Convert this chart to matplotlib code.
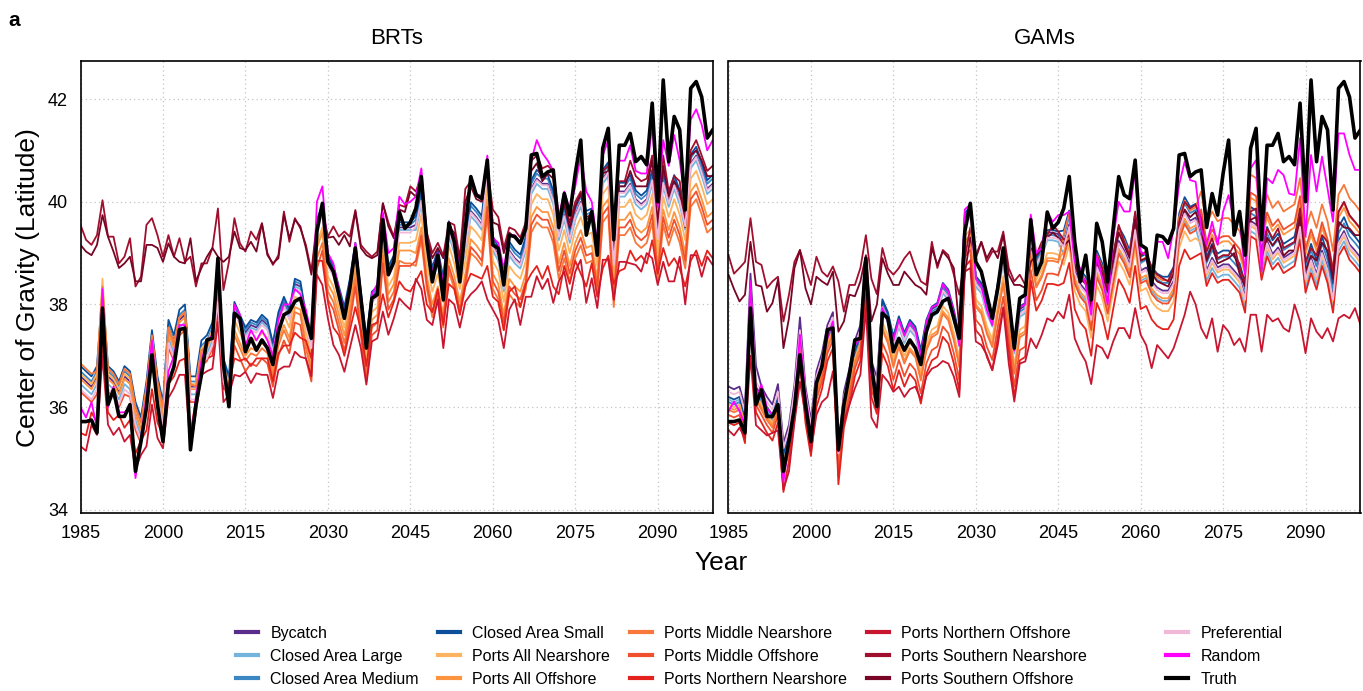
import matplotlib
matplotlib.use("Agg")
import matplotlib.pyplot as plt
from matplotlib.lines import Line2D

plt.rcParams['font.family'] = ['Liberation Sans', 'DejaVu Sans']

years = list(range(1985, 2101))

truth = [35.72, 35.72, 35.75, 35.50, 37.93, 36.05, 36.34, 35.82, 35.82, 36.05,
         34.75, 35.33, 35.99, 37.02, 36.05, 35.33, 36.47, 36.79, 37.51, 37.54,
         35.17, 36.05, 36.63, 37.31, 37.34, 38.90, 36.83, 36.01, 37.83, 37.73,
         37.08, 37.34, 37.11, 37.31, 37.15, 36.83, 37.47, 37.80, 37.86, 38.06,
         38.12, 37.73, 37.34, 39.42, 39.97, 38.83, 38.64, 38.19, 37.73, 38.32,
         39.10, 38.12, 37.15, 38.12, 38.19, 39.65, 38.58, 38.83, 39.80, 39.48,
         39.60, 39.87, 40.49, 39.22, 38.44, 38.96, 38.09, 39.58, 39.22, 38.44,
         39.48, 40.49, 40.13, 40.06, 40.81, 39.16, 39.09, 38.38, 39.35, 39.32,
         39.19, 39.48, 40.91, 40.94, 40.49, 40.58, 40.62, 39.50, 40.16, 39.74,
         40.55, 41.20, 39.35, 39.81, 38.96, 41.04, 41.43, 39.26, 41.10, 41.10,
         41.33, 40.78, 40.88, 40.72, 41.92, 40.00, 42.37, 40.78, 41.66, 41.40,
         39.84, 42.21, 42.34, 42.04, 41.24, 41.40]

# ---------------- BRTs ----------------
brt_bycatch = [36.60, 36.50, 36.40, 36.60, 38.10, 36.60, 36.50, 36.30, 36.60, 36.50,
               35.90, 35.60, 36.30, 37.30, 36.40, 35.90, 37.50, 37.20, 37.70, 37.80,
               36.40, 36.40, 37.10, 37.20, 37.45, 38.30, 36.75, 36.40, 37.95, 37.70,
               37.45, 37.60, 37.55, 37.70, 37.60, 37.15, 37.75, 38.05, 37.80, 38.40,
               38.35, 37.70, 37.25, 39.55, 39.85, 38.85, 38.65, 38.25, 37.85, 38.40,
               39.10, 38.15, 37.25, 38.15, 38.25, 39.55, 38.65, 38.85, 39.50, 39.50,
               39.50, 39.55, 40.05, 39.10, 38.55, 38.90, 38.35, 39.45, 39.10, 38.60,
               39.15, 39.82, 39.70, 39.55, 40.60, 39.15, 38.95, 38.35, 39.05, 38.90,
               38.80, 39.15, 40.25, 40.45, 40.35, 40.35, 40.05, 39.35, 39.75, 39.30,
               39.75, 40.00, 39.65, 39.70, 39.05, 40.45, 40.60, 38.80, 40.20, 40.20,
               40.35, 40.05, 39.95, 40.05, 40.45, 39.30, 40.40, 40.00, 40.35, 40.05,
               39.55, 40.75, 40.90, 40.60, 40.25, 40.35]
brt_ca_large = [36.45, 36.35, 36.25, 36.45, 37.95, 36.45, 36.35, 36.15, 36.45, 36.35,
                35.75, 35.45, 36.15, 37.15, 36.25, 35.75, 37.35, 37.05, 37.55, 37.65,
                36.25, 36.25, 36.95, 37.05, 37.30, 38.15, 36.60, 36.25, 37.90, 37.65,
                37.40, 37.55, 37.50, 37.65, 37.55, 37.10, 37.70, 38.00, 37.75, 38.35,
                38.30, 37.65, 37.20, 39.50, 39.80, 38.80, 38.60, 38.20, 37.80, 38.35,
                39.05, 38.10, 37.20, 38.10, 38.20, 39.50, 38.60, 38.80, 39.45, 39.45,
                39.45, 39.45, 39.95, 39.00, 38.45, 38.80, 38.25, 39.35, 39.00, 38.50,
                39.05, 39.72, 39.60, 39.45, 40.50, 39.05, 38.85, 38.25, 38.95, 38.80,
                38.70, 39.05, 40.15, 40.35, 40.25, 40.25, 39.95, 39.25, 39.65, 39.20,
                39.65, 39.90, 39.55, 39.60, 38.95, 40.35, 40.50, 38.70, 40.10, 40.10,
                40.25, 39.95, 39.85, 39.95, 40.35, 39.20, 40.30, 39.90, 40.25, 39.95,
                39.45, 40.65, 40.80, 40.50, 40.15, 40.25]
brt_ca_medium = [36.70, 36.60, 36.50, 36.70, 38.20, 36.70, 36.60, 36.40, 36.70, 36.60,
                 36.00, 35.70, 36.40, 37.40, 36.50, 36.00, 37.60, 37.30, 37.80, 37.90,
                 36.50, 36.50, 37.20, 37.30, 37.55, 38.40, 36.85, 36.50, 38.00, 37.75,
                 37.50, 37.65, 37.60, 37.75, 37.65, 37.20, 37.80, 38.10, 37.85, 38.45,
                 38.40, 37.75, 37.30, 39.60, 39.90, 38.90, 38.70, 38.30, 37.90, 38.45,
                 39.15, 38.20, 37.30, 38.20, 38.30, 39.60, 38.70, 38.90, 39.55, 39.55,
                 39.55, 39.65, 40.15, 39.20, 38.65, 39.00, 38.45, 39.55, 39.20, 38.70,
                 39.25, 39.92, 39.80, 39.65, 40.70, 39.25, 39.05, 38.45, 39.15, 39.00,
                 38.90, 39.25, 40.35, 40.55, 40.45, 40.45, 40.15, 39.45, 39.85, 39.40,
                 39.85, 40.10, 39.75, 39.80, 39.15, 40.55, 40.70, 38.90, 40.30, 40.30,
                 40.45, 40.15, 40.05, 40.15, 40.55, 39.40, 40.50, 40.10, 40.45, 40.15,
                 39.65, 40.85, 41.00, 40.70, 40.35, 40.45]
brt_ca_small = [36.80, 36.70, 36.60, 36.80, 38.30, 36.80, 36.70, 36.50, 36.80, 36.70,
                36.10, 35.80, 36.50, 37.50, 36.60, 36.10, 37.70, 37.40, 37.90, 38.00,
                36.60, 36.60, 37.30, 37.40, 37.65, 38.50, 36.95, 36.60, 38.05, 37.80,
                37.55, 37.70, 37.65, 37.80, 37.70, 37.25, 37.85, 38.15, 37.90, 38.50,
                38.45, 37.80, 37.35, 39.65, 39.95, 38.95, 38.75, 38.35, 37.95, 38.50,
                39.20, 38.25, 37.35, 38.25, 38.35, 39.65, 38.75, 38.95, 39.60, 39.60,
                39.60, 39.72, 40.22, 39.27, 38.72, 39.07, 38.52, 39.62, 39.27, 38.77,
                39.32, 39.99, 39.87, 39.72, 40.77, 39.32, 39.12, 38.52, 39.22, 39.07,
                38.97, 39.32, 40.42, 40.62, 40.52, 40.52, 40.22, 39.52, 39.92, 39.47,
                39.92, 40.17, 39.82, 39.87, 39.22, 40.62, 40.77, 38.97, 40.37, 40.37,
                40.52, 40.22, 40.12, 40.22, 40.62, 39.47, 40.57, 40.17, 40.52, 40.22,
                39.72, 40.92, 41.07, 40.77, 40.42, 40.52]
brt_ports_all_near = [36.65, 36.55, 36.45, 36.65, 38.50, 36.65, 36.55, 36.35, 36.65, 36.55,
                      35.95, 35.65, 36.35, 37.35, 36.45, 35.95, 37.55, 37.25, 37.75, 37.85,
                      36.45, 36.45, 37.15, 37.25, 37.50, 38.35, 36.80, 36.45, 37.70, 37.45,
                      37.20, 37.35, 37.30, 37.45, 37.35, 36.90, 37.50, 37.80, 37.55, 38.15,
                      38.10, 37.45, 37.00, 39.20, 39.50, 38.55, 38.35, 37.95, 37.55, 38.10,
                      38.80, 37.85, 37.00, 37.85, 37.95, 39.25, 38.35, 38.55, 39.20, 39.20,
                      39.20, 39.25, 39.75, 38.80, 38.25, 38.60, 38.05, 39.15, 38.80, 38.30,
                      38.85, 39.52, 39.40, 39.25, 40.30, 38.85, 38.65, 38.05, 38.75, 38.60,
                      38.50, 38.85, 39.95, 40.15, 40.05, 40.05, 39.75, 39.05, 39.45, 39.00,
                      39.45, 39.70, 39.35, 39.40, 38.75, 40.15, 40.30, 38.50, 39.90, 39.90,
                      40.05, 39.75, 39.65, 39.75, 40.15, 39.00, 40.10, 39.70, 40.05, 39.75,
                      39.25, 40.45, 40.60, 40.30, 39.95, 40.05]
brt_ports_all_off = [36.55, 36.45, 36.35, 36.55, 38.20, 36.55, 36.45, 36.25, 36.55, 36.45,
                     35.85, 35.55, 36.25, 37.25, 36.35, 35.85, 37.45, 37.15, 37.65, 37.75,
                     36.35, 36.35, 37.05, 37.15, 37.40, 38.25, 36.70, 36.35, 37.50, 37.25,
                     37.00, 37.15, 37.10, 37.25, 37.15, 36.70, 37.30, 37.60, 37.35, 37.95,
                     37.90, 37.25, 36.80, 39.10, 39.40, 38.40, 38.20, 37.80, 37.40, 37.95,
                     38.65, 37.70, 36.80, 37.70, 37.80, 39.10, 38.20, 38.40, 39.05, 39.05,
                     39.05, 39.00, 39.50, 38.55, 38.00, 38.35, 37.80, 38.90, 38.55, 38.05,
                     38.60, 39.27, 39.15, 39.00, 40.05, 38.60, 38.40, 37.80, 38.50, 38.35,
                     38.25, 38.60, 39.70, 39.90, 39.80, 39.80, 39.50, 38.80, 39.20, 38.75,
                     39.20, 39.45, 39.10, 39.15, 38.50, 39.90, 40.05, 38.25, 39.65, 39.65,
                     39.80, 39.50, 39.40, 39.50, 39.90, 38.75, 39.85, 39.45, 39.80, 39.50,
                     39.00, 40.20, 40.35, 40.05, 39.70, 39.80]
brt_ports_mid_near = [36.85, 36.75, 36.65, 36.70, 38.35, 36.75, 36.65, 36.45, 36.75, 36.65,
                      36.00, 35.70, 36.40, 37.40, 36.50, 36.00, 37.55, 37.25, 37.75, 37.85,
                      36.45, 36.40, 37.10, 37.20, 37.40, 38.30, 36.70, 36.30, 37.40, 37.15,
                      36.90, 37.05, 37.00, 37.15, 37.05, 36.60, 37.20, 37.50, 37.25, 37.85,
                      37.80, 37.15, 36.70, 38.90, 39.20, 38.25, 38.05, 37.65, 37.25, 37.80,
                      38.50, 37.55, 36.65, 37.55, 37.65, 38.95, 38.05, 38.25, 38.85, 38.80,
                      38.80, 38.75, 39.25, 38.30, 37.75, 38.10, 37.55, 38.65, 38.30, 37.80,
                      38.35, 39.00, 38.90, 38.75, 39.75, 38.30, 38.10, 37.50, 38.20, 38.05,
                      37.95, 38.30, 39.40, 39.60, 39.50, 39.50, 39.20, 38.50, 38.90, 38.45,
                      38.90, 39.15, 38.80, 38.85, 38.20, 39.60, 39.75, 37.95, 39.35, 39.35,
                      39.50, 39.20, 39.10, 39.20, 39.60, 38.45, 39.55, 39.15, 39.50, 39.20,
                      38.70, 39.90, 40.05, 39.75, 39.40, 39.50]
brt_ports_mid_off = [36.30, 36.20, 36.10, 36.25, 37.60, 36.30, 36.20, 36.00, 36.25, 36.20,
                     35.55, 35.30, 36.00, 37.00, 36.10, 35.60, 37.15, 36.90, 37.40, 37.50,
                     36.10, 36.10, 36.80, 36.90, 37.15, 37.95, 36.45, 36.10, 37.20, 36.95,
                     36.70, 36.85, 36.80, 36.95, 36.85, 36.40, 37.00, 37.30, 37.05, 37.65,
                     37.60, 36.95, 36.50, 38.70, 39.05, 38.10, 37.90, 37.50, 37.10, 37.65,
                     38.35, 37.40, 36.50, 37.40, 37.50, 38.80, 37.90, 38.10, 38.75, 38.75,
                     38.75, 38.85, 39.35, 38.40, 37.85, 38.20, 37.65, 38.75, 38.40, 37.90,
                     38.45, 39.12, 39.00, 38.85, 39.90, 38.45, 38.25, 37.65, 38.35, 38.20,
                     38.10, 38.45, 39.55, 39.75, 39.65, 39.65, 39.35, 38.65, 39.05, 38.60,
                     39.05, 39.30, 38.95, 39.00, 38.35, 39.75, 39.90, 38.10, 39.50, 39.50,
                     39.65, 39.35, 39.25, 39.35, 39.75, 38.60, 39.70, 39.30, 39.65, 39.35,
                     38.85, 40.05, 40.20, 39.90, 39.55, 39.65]
brt_ports_north_near = [35.50, 35.45, 35.90, 35.70, 37.30, 35.90, 35.75, 35.85, 35.60, 35.75,
                        35.10, 35.35, 35.55, 36.35, 35.70, 35.45, 36.45, 36.60, 36.90, 36.95,
                        35.50, 36.15, 36.85, 36.95, 37.00, 37.90, 36.35, 36.45, 36.95, 36.90,
                        36.95, 36.80, 36.95, 36.95, 36.95, 36.50, 37.05, 37.20, 37.20, 37.45,
                        37.35, 37.30, 36.95, 38.85, 38.85, 38.05, 37.55, 37.40, 37.00, 37.50,
                        37.95, 37.50, 36.80, 37.60, 37.65, 38.20, 37.75, 38.05, 38.45, 38.30,
                        38.25, 38.45, 38.65, 38.00, 37.85, 38.30, 37.60, 38.40, 38.30, 37.80,
                        38.35, 38.60, 38.55, 38.50, 38.75, 38.15, 38.05, 37.50, 38.25, 38.35,
                        37.95, 38.40, 38.60, 38.75, 38.50, 38.75, 38.35, 38.20, 38.75, 38.40,
                        38.85, 38.60, 38.35, 38.80, 38.15, 38.70, 38.95, 38.40, 38.65, 38.70,
                        39.05, 38.85, 38.95, 38.80, 39.25, 38.60, 39.10, 38.75, 38.90, 38.70,
                        38.35, 38.85, 39.05, 38.75, 39.05, 38.90]
brt_ports_north_off = [35.24, 35.15, 35.66, 35.46, 37.00, 35.66, 35.46, 35.60, 35.33, 35.46,
                       34.80, 35.07, 35.24, 36.05, 35.40, 35.20, 36.18, 36.37, 36.63, 36.63,
                       35.20, 35.90, 36.63, 36.70, 36.75, 37.67, 36.10, 36.24, 36.63, 36.60,
                       36.69, 36.47, 36.66, 36.63, 36.63, 36.18, 36.72, 36.79, 36.79, 37.08,
                       36.98, 36.95, 36.60, 38.58, 38.38, 37.73, 37.21, 37.02, 36.69, 37.15,
                       37.60, 37.15, 36.44, 37.28, 37.34, 37.86, 37.41, 37.73, 38.12, 38.00,
                       37.90, 38.50, 38.30, 37.70, 37.60, 38.10, 37.15, 38.10, 38.00, 37.55,
                       38.05, 38.20, 38.30, 38.45, 38.10, 37.90, 37.70, 37.15, 37.90, 38.10,
                       37.60, 38.15, 38.15, 38.55, 38.30, 38.50, 38.03, 38.45, 38.64, 38.09,
                       38.64, 38.87, 38.03, 38.51, 37.93, 38.87, 38.87, 38.09, 38.83, 38.83,
                       38.80, 38.77, 38.64, 39.00, 38.90, 38.38, 38.83, 38.45, 38.45, 38.93,
                       38.00, 38.96, 38.96, 38.54, 38.93, 38.77]
brt_ports_south_near = [39.55, 39.26, 39.16, 39.35, 40.03, 39.32, 39.32, 38.80, 38.93, 39.29,
                        38.35, 38.54, 39.55, 39.68, 39.35, 38.93, 39.35, 38.93, 39.29, 38.83,
                        38.93, 38.35, 38.80, 38.80, 39.10, 39.87, 38.28, 38.83, 39.68, 39.19,
                        39.03, 39.42, 39.26, 39.58, 39.00, 38.77, 38.96, 39.81, 39.22, 39.68,
                        39.48, 39.16, 38.64, 39.60, 39.85, 39.32, 39.52, 39.32, 39.42, 39.32,
                        39.84, 39.16, 39.03, 38.93, 39.03, 39.97, 39.60, 39.32, 39.94, 39.90,
                        40.30, 40.20, 40.50, 39.40, 39.00, 39.20, 38.95, 39.60, 39.55, 38.90,
                        40.25, 40.40, 40.15, 40.10, 40.70, 39.85, 39.70, 39.10, 39.50, 39.45,
                        39.30, 39.60, 40.80, 40.90, 40.65, 40.70, 40.60, 39.70, 40.00, 39.60,
                        40.00, 40.20, 39.60, 39.80, 39.10, 40.60, 40.70, 39.00, 40.40, 40.40,
                        40.80, 40.50, 40.40, 40.45, 40.90, 39.50, 40.90, 40.20, 40.50, 40.40,
                        39.60, 41.00, 41.20, 40.90, 40.60, 40.70]
brt_ports_south_off = [39.16, 39.03, 38.96, 39.16, 39.74, 39.32, 39.03, 38.71, 38.80, 38.93,
                       38.45, 38.45, 39.16, 39.16, 39.10, 38.83, 39.19, 38.93, 38.83, 38.80,
                       39.29, 38.45, 38.71, 38.93, 39.10, 38.93, 38.83, 38.93, 39.42, 39.10,
                       39.06, 39.22, 39.03, 39.58, 38.96, 38.80, 38.90, 39.74, 39.29, 39.65,
                       39.52, 39.10, 38.58, 39.50, 39.80, 39.30, 39.32, 39.16, 39.35, 39.13,
                       39.81, 39.10, 38.96, 38.90, 38.96, 39.97, 39.52, 39.29, 39.85, 39.80,
                       40.20, 40.10, 40.40, 39.30, 38.90, 39.10, 38.90, 39.50, 39.40, 38.85,
                       40.00, 40.30, 40.05, 40.00, 40.60, 39.60, 39.55, 39.00, 39.40, 39.30,
                       39.20, 39.50, 40.60, 40.75, 40.40, 40.55, 40.45, 39.60, 39.95, 39.50,
                       39.90, 40.15, 39.70, 39.75, 39.05, 40.55, 40.60, 39.10, 40.30, 40.30,
                       40.60, 40.30, 40.30, 40.30, 40.80, 39.60, 40.70, 40.10, 40.40, 40.20,
                       39.50, 40.90, 41.00, 40.80, 40.50, 40.50]
brt_preferential = [36.35, 36.25, 36.15, 36.35, 37.85, 36.35, 36.25, 36.05, 36.35, 36.25,
                    35.65, 35.35, 36.05, 37.05, 36.15, 35.65, 37.25, 36.95, 37.45, 37.55,
                    36.15, 36.15, 36.85, 36.95, 37.20, 38.05, 36.50, 36.15, 37.85, 37.60,
                    37.35, 37.50, 37.45, 37.60, 37.50, 37.05, 37.65, 37.95, 37.70, 38.30,
                    38.25, 37.60, 37.15, 39.45, 39.75, 38.75, 38.55, 38.15, 37.75, 38.30,
                    39.00, 38.05, 37.15, 38.05, 38.15, 39.45, 38.55, 38.75, 39.40, 39.40,
                    39.40, 39.52, 40.02, 39.07, 38.52, 38.87, 38.32, 39.42, 39.07, 38.57,
                    39.12, 39.79, 39.67, 39.52, 40.57, 39.12, 38.92, 38.32, 39.02, 38.87,
                    38.77, 39.12, 40.22, 40.42, 40.32, 40.32, 40.02, 39.32, 39.72, 39.27,
                    39.72, 39.97, 39.62, 39.67, 39.02, 40.42, 40.57, 38.77, 40.17, 40.17,
                    40.32, 40.02, 39.92, 40.02, 40.42, 39.27, 40.37, 39.97, 40.32, 40.02,
                    39.52, 40.72, 40.87, 40.57, 40.22, 40.32]
brt_random = [36.00, 35.80, 36.10, 35.60, 38.30, 36.00, 36.40, 35.90, 35.90, 36.00,
              34.62, 35.40, 36.20, 37.30, 36.10, 35.40, 36.70, 37.00, 37.60, 37.60,
              35.30, 36.20, 36.90, 37.30, 37.40, 38.60, 36.90, 36.00, 38.00, 37.80,
              37.20, 37.50, 37.30, 37.50, 37.30, 37.00, 37.70, 38.00, 38.00, 38.30,
              38.20, 37.90, 37.40, 40.00, 40.30, 39.00, 38.80, 38.30, 37.80, 38.40,
              39.20, 38.20, 37.20, 38.20, 38.40, 39.80, 39.00, 39.10, 40.10, 39.95,
              40.00, 40.10, 40.65, 39.30, 38.60, 39.00, 38.40, 39.60, 39.30, 38.60,
              39.45, 40.40, 40.15, 40.10, 40.90, 39.30, 39.20, 38.70, 39.35, 39.35,
              39.20, 39.50, 40.80, 41.20, 40.95, 40.80, 40.60, 39.70, 40.20, 39.85,
              40.30, 40.90, 40.20, 40.00, 39.20, 40.90, 41.20, 39.40, 40.80, 40.80,
              41.10, 40.60, 40.55, 40.55, 41.50, 39.90, 41.20, 40.70, 41.30, 40.80,
              40.00, 41.60, 41.80, 41.50, 41.00, 41.20]

# ---------------- GAMs ----------------
gam_bycatch = [36.40, 36.35, 36.40, 36.00, 38.60, 36.80, 36.40, 36.20, 36.05, 36.45,
               35.30, 35.66, 36.44, 37.75, 36.40, 35.75, 36.70, 37.05, 37.60, 37.85,
               35.20, 36.30, 36.75, 37.30, 37.60, 38.90, 36.90, 36.57, 38.05, 37.80,
               37.33, 37.72, 37.40, 37.65, 37.52, 37.07, 37.65, 37.91, 37.98, 38.37,
               38.24, 37.85, 37.33, 39.73, 39.86, 38.50, 38.37, 37.98, 37.72, 38.37,
               38.95, 38.11, 37.20, 37.91, 37.98, 39.47, 38.88, 39.08, 39.40, 39.40,
               39.37, 39.17, 39.56, 38.66, 38.40, 38.27, 37.75, 38.78, 38.53, 38.07,
               38.66, 39.24, 39.05, 38.78, 39.50, 38.66, 38.72, 38.46, 38.33, 38.27,
               38.27, 38.46, 39.50, 39.82, 39.63, 39.69, 39.30, 38.66, 38.91, 38.72,
               38.78, 38.78, 38.66, 38.53, 38.14, 39.63, 39.56, 38.78, 39.24, 38.98,
               39.11, 38.91, 38.98, 39.05, 39.56, 38.53, 38.91, 38.59, 39.05, 38.72,
               38.14, 39.24, 39.43, 39.17, 39.05, 38.91]
gam_ca_large = [36.15, 36.10, 36.15, 35.75, 38.15, 36.35, 36.15, 35.95, 35.80, 36.15,
                35.05, 35.41, 36.19, 37.30, 36.15, 35.50, 36.45, 36.80, 37.35, 37.60,
                34.95, 36.05, 36.50, 37.05, 37.35, 38.65, 36.65, 36.32, 37.90, 37.65,
                37.18, 37.57, 37.25, 37.50, 37.37, 36.92, 37.50, 37.76, 37.83, 38.22,
                38.09, 37.70, 37.18, 39.58, 39.71, 38.35, 38.22, 37.83, 37.57, 38.22,
                38.80, 37.96, 37.05, 37.76, 37.83, 39.32, 38.73, 38.93, 39.25, 39.25,
                39.22, 38.97, 39.36, 38.46, 38.20, 38.07, 37.55, 38.58, 38.33, 37.87,
                38.46, 39.04, 38.85, 38.58, 39.30, 38.46, 38.52, 38.26, 38.13, 38.07,
                38.07, 38.26, 39.30, 39.62, 39.43, 39.49, 39.10, 38.46, 38.71, 38.52,
                38.58, 38.58, 38.46, 38.33, 37.94, 39.43, 39.36, 38.58, 39.04, 38.78,
                38.91, 38.71, 38.78, 38.85, 39.36, 38.33, 38.71, 38.39, 38.85, 38.52,
                37.94, 39.04, 39.23, 38.97, 38.85, 38.71]
gam_ca_medium = [36.10, 36.05, 36.10, 35.70, 38.10, 36.30, 36.10, 35.90, 35.75, 36.10,
                 35.00, 35.36, 36.14, 37.25, 36.10, 35.45, 36.40, 36.75, 37.30, 37.55,
                 34.68, 36.00, 36.45, 37.00, 37.30, 38.60, 36.60, 36.27, 38.00, 37.75,
                 37.28, 37.67, 37.35, 37.60, 37.47, 37.02, 37.60, 37.86, 37.93, 38.32,
                 38.19, 37.80, 37.28, 39.68, 39.81, 38.45, 38.32, 37.93, 37.67, 38.32,
                 38.90, 38.06, 37.15, 37.86, 37.93, 39.42, 38.83, 39.03, 39.35, 39.35,
                 39.32, 39.32, 39.71, 38.81, 38.55, 38.42, 37.90, 38.93, 38.68, 38.22,
                 38.81, 39.39, 39.20, 38.93, 39.65, 38.81, 38.87, 38.61, 38.48, 38.42,
                 38.42, 38.61, 39.65, 39.97, 39.78, 39.84, 39.45, 38.81, 39.06, 38.87,
                 38.93, 38.93, 38.81, 38.68, 38.29, 39.78, 39.71, 38.93, 39.39, 39.13,
                 39.26, 39.06, 39.13, 39.20, 39.71, 38.68, 39.06, 38.74, 39.20, 38.87,
                 38.29, 39.39, 39.58, 39.32, 39.20, 39.06]
gam_ca_small = [36.20, 36.15, 36.20, 35.80, 38.20, 36.40, 36.20, 36.00, 35.85, 36.20,
                35.10, 35.46, 36.24, 37.35, 36.20, 35.55, 36.50, 36.85, 37.40, 37.65,
                35.00, 36.10, 36.55, 37.10, 37.40, 38.70, 36.70, 36.37, 38.10, 37.85,
                37.38, 37.77, 37.45, 37.70, 37.57, 37.12, 37.70, 37.96, 38.03, 38.42,
                38.29, 37.90, 37.38, 39.78, 39.91, 38.55, 38.42, 38.03, 37.77, 38.42,
                39.00, 38.16, 37.25, 37.96, 38.03, 39.52, 38.93, 39.13, 39.45, 39.45,
                39.42, 39.44, 39.83, 38.93, 38.67, 38.54, 38.02, 39.05, 38.80, 38.34,
                38.93, 39.51, 39.32, 39.05, 39.77, 38.93, 38.99, 38.73, 38.60, 38.54,
                38.54, 38.73, 39.77, 40.09, 39.90, 39.96, 39.57, 38.93, 39.18, 38.99,
                39.05, 39.05, 38.93, 38.80, 38.41, 39.90, 39.83, 39.05, 39.51, 39.25,
                39.38, 39.18, 39.25, 39.32, 39.83, 38.80, 39.18, 38.86, 39.32, 38.99,
                38.41, 39.51, 39.70, 39.44, 39.32, 39.18]
gam_ports_all_near = [36.05, 36.00, 36.05, 35.65, 38.05, 36.25, 36.05, 35.85, 35.70, 36.05,
                      34.95, 35.31, 36.09, 37.20, 36.05, 35.40, 36.35, 36.70, 37.25, 37.50,
                      34.85, 35.95, 36.40, 36.95, 37.25, 38.55, 36.55, 36.22, 37.65, 37.40,
                      36.93, 37.32, 37.00, 37.25, 37.12, 36.67, 37.25, 37.51, 37.58, 37.97,
                      37.84, 37.45, 36.93, 39.33, 39.46, 38.10, 37.97, 37.58, 37.32, 37.97,
                      38.55, 37.71, 36.80, 37.51, 37.58, 39.07, 38.48, 38.68, 39.00, 39.00,
                      38.97, 38.77, 39.16, 38.26, 38.00, 37.87, 37.35, 38.38, 38.13, 37.67,
                      38.26, 38.84, 38.65, 38.38, 39.10, 38.26, 38.32, 38.06, 37.93, 37.87,
                      37.87, 38.06, 39.10, 39.42, 39.23, 39.29, 39.20, 38.56, 38.81, 38.62,
                      38.68, 38.68, 38.56, 38.43, 38.04, 39.53, 39.46, 38.68, 39.14, 38.88,
                      39.01, 38.81, 38.88, 38.95, 39.46, 38.43, 38.81, 38.49, 38.95, 38.62,
                      38.04, 39.14, 39.33, 39.07, 38.95, 38.81]
gam_ports_all_off = [36.00, 35.95, 36.00, 35.60, 38.00, 36.20, 36.00, 35.80, 35.65, 36.00,
                     34.90, 35.26, 36.04, 37.15, 36.00, 35.35, 36.30, 36.65, 37.20, 37.45,
                     34.80, 35.90, 36.35, 36.90, 37.20, 38.50, 36.50, 36.17, 37.55, 37.30,
                     36.83, 37.22, 36.90, 37.15, 37.02, 36.57, 37.15, 37.41, 37.48, 37.87,
                     37.74, 37.35, 36.83, 39.23, 39.36, 38.00, 37.87, 37.48, 37.22, 37.87,
                     38.45, 37.61, 36.70, 37.41, 37.48, 38.97, 38.38, 38.58, 38.90, 38.90,
                     38.87, 39.02, 39.41, 38.51, 38.25, 38.12, 37.60, 38.63, 38.38, 37.92,
                     38.51, 39.09, 38.90, 38.63, 39.35, 38.51, 38.57, 38.31, 38.18, 38.12,
                     38.12, 38.31, 39.35, 39.67, 39.48, 39.54, 39.75, 39.11, 39.36, 39.17,
                     39.23, 39.23, 39.11, 38.98, 38.59, 40.08, 40.01, 39.23, 39.69, 39.43,
                     39.56, 39.36, 39.43, 39.50, 40.01, 38.98, 39.36, 39.04, 39.50, 39.17,
                     38.59, 39.69, 39.88, 39.62, 39.50, 39.36]
gam_ports_mid_near = [35.95, 35.90, 35.95, 35.55, 37.95, 36.15, 35.95, 35.75, 35.60, 35.95,
                      34.85, 35.21, 35.99, 37.10, 35.95, 35.30, 36.25, 36.60, 37.15, 37.40,
                      34.75, 35.85, 36.30, 36.85, 37.15, 38.45, 36.45, 36.12, 37.50, 37.25,
                      36.78, 37.17, 36.85, 37.10, 36.97, 36.52, 37.10, 37.36, 37.43, 37.82,
                      37.69, 37.30, 36.78, 39.18, 39.31, 37.95, 37.82, 37.43, 37.17, 37.82,
                      38.40, 37.56, 36.65, 37.36, 37.43, 38.92, 38.33, 38.53, 38.85, 38.85,
                      38.82, 39.37, 39.76, 38.86, 38.60, 38.47, 37.95, 38.98, 38.73, 38.27,
                      38.86, 39.44, 39.25, 38.98, 39.70, 38.86, 38.92, 38.66, 38.53, 38.47,
                      38.47, 38.66, 39.70, 40.02, 39.83, 39.89, 40.20, 39.56, 39.81, 39.62,
                      39.68, 39.68, 39.56, 39.43, 39.04, 40.53, 40.46, 39.68, 40.14, 39.88,
                      40.01, 39.81, 39.88, 39.95, 40.46, 39.43, 39.81, 39.49, 39.95, 39.62,
                      39.04, 40.14, 40.33, 40.07, 39.95, 39.81]
gam_ports_mid_off = [35.85, 35.80, 35.85, 35.45, 37.85, 36.05, 35.85, 35.65, 35.50, 35.85,
                     34.75, 35.11, 35.89, 37.00, 35.85, 35.20, 36.15, 36.50, 37.05, 37.30,
                     34.65, 35.75, 36.20, 36.75, 37.05, 38.35, 36.35, 36.02, 37.25, 37.00,
                     36.53, 36.92, 36.60, 36.85, 36.72, 36.27, 36.85, 37.11, 37.18, 37.57,
                     37.44, 37.05, 36.53, 38.93, 39.06, 37.70, 37.57, 37.18, 36.92, 37.57,
                     38.15, 37.31, 36.40, 37.11, 37.18, 38.67, 38.08, 38.28, 38.60, 38.60,
                     38.57, 38.92, 39.31, 38.41, 38.15, 38.02, 37.50, 38.53, 38.28, 37.82,
                     38.41, 38.99, 38.80, 38.53, 39.25, 38.41, 38.47, 38.21, 38.08, 38.02,
                     38.02, 38.21, 39.25, 39.57, 39.38, 39.44, 39.85, 39.21, 39.46, 39.27,
                     39.33, 39.33, 39.21, 39.08, 38.69, 40.18, 40.11, 39.33, 39.79, 39.53,
                     39.66, 39.46, 39.53, 39.60, 40.11, 39.08, 39.46, 39.14, 39.60, 39.27,
                     38.69, 39.79, 39.98, 39.72, 39.60, 39.46]
gam_ports_north_near = [35.70, 35.65, 35.70, 35.30, 37.70, 35.90, 35.70, 35.50, 35.35, 35.70,
                        34.35, 34.96, 35.74, 36.85, 35.70, 35.05, 36.00, 36.35, 36.90, 37.15,
                        34.50, 35.60, 36.05, 36.60, 36.90, 38.20, 36.20, 35.87, 37.05, 36.80,
                        36.33, 36.72, 36.40, 36.65, 36.52, 36.07, 36.65, 36.91, 36.98, 37.37,
                        37.24, 36.85, 36.33, 38.73, 38.86, 37.50, 37.37, 36.98, 36.72, 37.37,
                        37.95, 37.11, 36.20, 36.91, 36.98, 38.47, 37.88, 38.08, 38.40, 38.40,
                        38.37, 38.42, 38.81, 37.91, 37.65, 37.52, 37.00, 38.03, 37.78, 37.32,
                        37.91, 38.49, 38.30, 38.03, 38.75, 37.91, 37.97, 37.71, 37.58, 37.52,
                        37.52, 37.71, 38.75, 39.07, 38.88, 38.94, 39.00, 38.36, 38.61, 38.42,
                        38.48, 38.48, 38.36, 38.23, 37.84, 39.33, 39.26, 38.48, 38.94, 38.68,
                        38.81, 38.61, 38.68, 38.75, 39.26, 38.23, 38.61, 38.29, 38.75, 38.42,
                        37.84, 38.94, 39.13, 38.87, 38.75, 38.61]
gam_ports_north_off = [35.55, 35.45, 35.60, 35.40, 37.00, 35.65, 35.55, 35.45, 35.50, 35.55,
                       34.40, 34.75, 35.70, 36.50, 35.85, 35.15, 35.85, 36.10, 36.20, 36.70,
                       35.20, 35.72, 36.05, 36.37, 36.63, 37.93, 35.80, 35.60, 36.63, 36.50,
                       36.30, 36.40, 36.20, 36.35, 36.40, 36.15, 36.60, 36.75, 36.80, 36.90,
                       36.85, 36.60, 36.20, 38.64, 38.71, 37.28, 37.21, 37.02, 36.72, 37.21,
                       37.93, 36.85, 36.11, 36.85, 36.89, 37.34, 37.15, 37.41, 37.73, 37.67,
                       37.86, 37.73, 38.19, 37.34, 37.08, 36.89, 36.45, 37.21, 37.15, 36.95,
                       37.28, 37.54, 37.54, 37.34, 37.93, 37.41, 37.21, 36.76, 37.21, 37.08,
                       36.95, 37.15, 37.47, 37.80, 38.25, 38.00, 37.54, 37.34, 37.73, 37.08,
                       37.60, 37.47, 37.21, 37.34, 37.08, 37.80, 37.80, 37.08, 37.80, 37.67,
                       37.73, 37.54, 37.47, 38.00, 37.67, 37.05, 37.73, 37.47, 37.34, 37.54,
                       37.28, 37.73, 37.80, 37.73, 37.93, 37.60]
gam_ports_south_near = [38.96, 38.60, 38.71, 38.83, 39.68, 38.83, 38.77, 38.32, 38.45, 38.54,
                        37.67, 38.19, 38.83, 39.06, 38.71, 38.38, 38.93, 38.64, 38.54, 38.74,
                        38.45, 37.86, 38.38, 38.38, 38.71, 39.35, 38.50, 38.20, 39.10, 38.70,
                        38.58, 38.71, 38.90, 39.03, 38.71, 38.45, 38.38, 39.22, 38.71, 39.06,
                        38.96, 38.58, 38.19, 38.90, 39.50, 38.96, 39.22, 38.83, 39.03, 39.03,
                        39.42, 38.71, 38.45, 38.58, 38.38, 39.10, 38.96, 39.22, 39.35, 39.55,
                        39.42, 39.26, 39.35, 38.83, 38.58, 38.45, 38.06, 38.96, 38.71, 38.32,
                        38.96, 39.55, 39.22, 38.96, 39.81, 38.96, 39.03, 38.71, 38.58, 38.51,
                        38.45, 38.71, 39.61, 40.00, 39.87, 39.94, 39.68, 39.03, 39.29, 38.90,
                        38.96, 38.96, 39.16, 38.71, 38.45, 39.81, 39.87, 38.83, 39.48, 39.29,
                        39.48, 39.10, 39.16, 39.22, 39.87, 38.83, 39.10, 38.96, 39.35, 39.22,
                        38.64, 39.81, 40.00, 39.74, 39.61, 39.48]
gam_ports_south_off = [38.58, 38.30, 38.06, 38.19, 39.22, 38.38, 38.35, 37.86, 38.03, 38.48,
                       37.15, 37.73, 38.71, 39.06, 38.32, 38.00, 38.54, 38.45, 38.38, 38.64,
                       37.47, 37.67, 38.19, 38.16, 38.45, 38.96, 37.67, 38.00, 38.90, 38.60,
                       38.38, 38.38, 38.64, 38.51, 38.38, 38.32, 38.19, 39.10, 38.77, 39.03,
                       38.90, 38.71, 37.54, 38.60, 39.30, 38.90, 39.22, 38.90, 39.10, 38.90,
                       39.35, 38.58, 38.38, 38.38, 38.32, 38.83, 38.96, 39.10, 39.30, 39.40,
                       39.30, 39.15, 39.25, 38.75, 38.50, 38.40, 37.95, 38.85, 38.60, 38.25,
                       38.85, 39.40, 39.15, 38.90, 39.65, 38.85, 38.90, 38.60, 38.45, 38.40,
                       38.35, 38.60, 39.45, 39.85, 39.70, 39.80, 39.50, 38.85, 39.15, 38.80,
                       38.85, 38.90, 39.00, 38.60, 38.35, 39.65, 39.70, 38.70, 39.30, 39.15,
                       39.30, 38.95, 39.05, 39.05, 39.70, 38.65, 38.95, 38.85, 39.20, 39.05,
                       38.50, 39.61, 39.50, 39.48, 39.35, 39.35]
gam_preferential = [36.30, 36.25, 36.30, 35.90, 38.30, 36.50, 36.30, 36.10, 35.95, 36.30,
                    35.20, 35.56, 36.34, 37.50, 36.30, 35.65, 36.60, 36.95, 37.50, 37.75,
                    35.10, 36.20, 36.65, 37.20, 37.50, 38.80, 36.80, 36.47, 37.95, 37.70,
                    37.23, 37.62, 37.30, 37.55, 37.42, 36.97, 37.55, 37.81, 37.88, 38.27,
                    38.14, 37.75, 37.23, 39.63, 39.76, 38.40, 38.27, 37.88, 37.62, 38.27,
                    38.85, 38.01, 37.10, 37.81, 37.88, 39.37, 38.78, 38.98, 39.30, 39.30,
                    39.27, 39.12, 39.51, 38.61, 38.35, 38.22, 37.70, 38.73, 38.48, 38.02,
                    38.61, 39.19, 39.00, 38.73, 39.45, 38.61, 38.67, 38.41, 38.28, 38.22,
                    38.22, 38.41, 39.45, 39.77, 39.58, 39.64, 39.25, 38.61, 38.86, 38.67,
                    38.73, 38.73, 38.61, 38.48, 38.09, 39.58, 39.51, 38.73, 39.19, 38.93,
                    39.06, 38.86, 38.93, 39.00, 39.51, 38.48, 38.86, 38.54, 39.00, 38.67,
                    38.09, 39.19, 39.38, 39.12, 39.00, 38.86]
gam_random = [35.92, 36.11, 35.92, 35.66, 38.45, 36.18, 36.44, 35.98, 35.85, 35.98,
              34.55, 35.33, 36.05, 37.41, 36.24, 35.46, 36.50, 36.82, 37.34, 37.67,
              35.14, 36.05, 36.63, 37.21, 37.34, 38.71, 36.63, 36.18, 37.93, 37.67,
              37.30, 37.70, 37.40, 37.65, 37.50, 37.00, 37.65, 37.95, 38.00, 38.40,
              38.25, 37.85, 37.20, 39.85, 39.95, 38.50, 38.35, 37.90, 37.60, 38.35,
              39.00, 38.10, 37.10, 37.95, 38.00, 39.75, 39.00, 39.10, 39.80, 39.61,
              39.74, 39.74, 39.81, 38.83, 38.71, 38.38, 37.80, 38.96, 38.51, 38.00,
              39.29, 40.00, 39.81, 39.81, 40.59, 39.03, 38.96, 38.45, 39.22, 39.22,
              38.90, 39.48, 40.33, 40.78, 40.42, 40.39, 39.48, 39.16, 39.61, 39.16,
              39.81, 40.13, 39.61, 39.68, 38.58, 40.65, 40.81, 38.64, 40.46, 40.36,
              40.62, 40.52, 40.16, 40.13, 41.24, 39.32, 40.91, 40.20, 40.88, 40.26,
              39.61, 41.33, 41.33, 40.91, 40.62, 40.62]

labels = ["Bycatch", "Closed Area Large", "Closed Area Medium",
          "Closed Area Small", "Ports All Nearshore", "Ports All Offshore",
          "Ports Middle Nearshore", "Ports Middle Offshore", "Ports Northern Nearshore",
          "Ports Northern Offshore", "Ports Southern Nearshore", "Ports Southern Offshore",
          "Preferential", "Random", "Truth"]
colors = ["#5a2d8c", "#74b3dc", "#3a87c4",
          "#0b4f9c", "#fdb35f", "#fd9440",
          "#f8773a", "#f0502e", "#e4221d",
          "#c91630", "#a10f2e", "#780526",
          "#f2b8d8", "#ff00ff", "#000000"]

brt_series = [brt_bycatch, brt_ca_large, brt_ca_medium, brt_ca_small,
              brt_ports_all_near, brt_ports_all_off, brt_ports_mid_near, brt_ports_mid_off,
              brt_ports_north_near, brt_ports_north_off, brt_ports_south_near,
              brt_ports_south_off, brt_preferential, brt_random, truth]
gam_series = [gam_bycatch, gam_ca_large, gam_ca_medium, gam_ca_small,
              gam_ports_all_near, gam_ports_all_off, gam_ports_mid_near, gam_ports_mid_off,
              gam_ports_north_near, gam_ports_north_off, gam_ports_south_near,
              gam_ports_south_off, gam_preferential, gam_random, truth]

W, H = 1363, 691
fig = plt.figure(figsize=(W / 100, H / 100), dpi=100)
ax1 = fig.add_axes([80.5 / W, 1 - 513 / H, 632.2 / W, 452.5 / H])
ax2 = fig.add_axes([728.5 / W, 1 - 513 / H, 632.0 / W, 452.5 / H])

for ax, series, title in ((ax1, brt_series, "BRTs"), (ax2, gam_series, "GAMs")):
    for lab, col, vals in zip(labels, colors, series):
        lw = 2.6 if lab == "Truth" else 1.3
        ax.plot(years, vals, color=col, lw=lw)
    ax.set_xlim(1985, 2100)
    ax.set_ylim(33.94, 42.75)
    ax.set_xticks(list(range(1985, 2091, 15)))
    ax.set_yticks([34, 36, 38, 40, 42])
    ax.grid(True, linestyle=(0, (1, 2.5)), color="#c4c4c4", lw=0.9)
    ax.set_axisbelow(True)
    ax.tick_params(length=0, labelsize=13, pad=9)
    for sp in ax.spines.values():
        sp.set_linewidth(1.2)
        sp.set_color("black")
    ax.text(0.5, 1 + 22 / 452.5, title, transform=ax.transAxes,
            ha="center", va="center", fontsize=16)
ax2.tick_params(labelleft=False)

fig.text(28 / W, 1 - 288 / H, "Center of Gravity (Latitude)", rotation=90,
         ha="center", va="center", fontsize=19)
fig.text(721 / W, 1 - 563 / H, "Year", ha="center", va="center", fontsize=19)
fig.text(14 / W, 1 - 20 / H, "a", ha="center", va="center", fontsize=15,
         fontweight="bold")

col_x = [236, 438, 630, 867, 1166]
for c in range(5):
    idx = range(3 * c, 3 * c + 3)
    handles = [Line2D([], [], color=colors[i], lw=3) for i in idx]
    labs = [labels[i] for i in idx]
    fig.legend(handles, labs, loc="upper left",
               bbox_to_anchor=(col_x[c] / W, 1 - 626 / H),
               frameon=False, fontsize=11.5, handlelength=1.4,
               handletextpad=0.75, labelspacing=0.5, borderpad=0,
               borderaxespad=0)

fig.savefig("out.png", dpi=100)
